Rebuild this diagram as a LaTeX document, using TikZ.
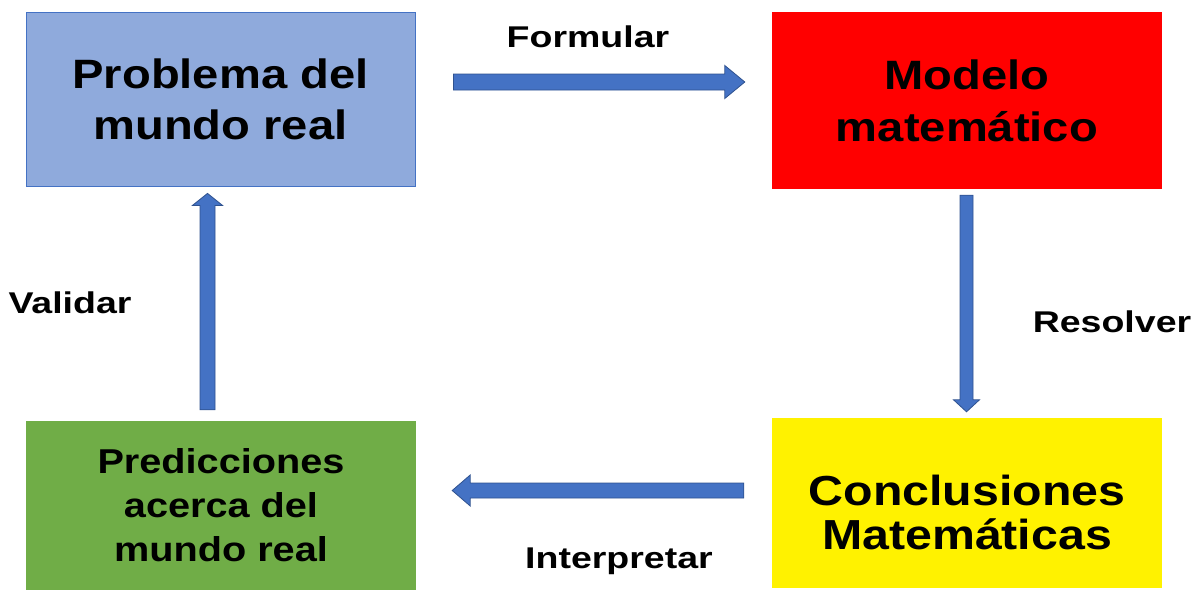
\documentclass[tikz,border=0pt]{standalone}
\usepackage{fontspec}
\setmainfont{Liberation Sans}
\newfontfamily\boxfont{Liberation Sans}[FakeStretch=1.15]
\newfontfamily\lblfont{Liberation Sans}[FakeStretch=1.25]
\usetikzlibrary{calc}
\definecolor{boxblue}{HTML}{8FAADC}
\definecolor{edgeblue}{HTML}{4472C4}
\definecolor{boxgreen}{HTML}{70AD47}
\definecolor{arrowfill}{HTML}{4472C4}
\definecolor{arrowedge}{HTML}{2F528F}
\tikzset{
  stage/.style={rectangle, minimum width=390pt, inner sep=0pt, align=center},
  verb/.style={anchor=base, inner sep=0pt, font=\lblfont\bfseries\fontsize{30}{36}\selectfont},
  fatarrow/.style={fill=arrowfill, draw=arrowedge, line width=0.8pt, line join=miter}
}
\newcommand{\bigarrow}[5]{%
  \coordinate (ba) at ($(#2)!#5!(#1)$);
  \filldraw[fatarrow] ($(#1)!#3!90:(#2)$) -- ($(ba)!#3!90:(#2)$) -- ($(ba)!#4!90:(#2)$) -- (#2)
    -- ($(ba)!#4!-90:(#2)$) -- ($(ba)!#3!-90:(#2)$) -- ($(#1)!#3!-90:(#2)$) -- cycle;
}
\begin{document}
\begin{tikzpicture}[x=1pt,y=1pt]
\useasboundingbox (0,0) rectangle (1195,-590);
\node[stage, fill=boxblue, draw=edgeblue, line width=0.8pt, minimum width=389pt, minimum height=174pt,
  font=\boxfont\bfseries\fontsize{41}{51}\selectfont] (prob) at (220.5,-99) {Problema del\\mundo real};
\node[stage, fill=red, minimum height=177pt,
  font=\boxfont\bfseries\fontsize{41}{52}\selectfont] (modelo) at (967,-100.5) {Modelo\\matemático};
\node[stage, fill=yellow, minimum height=170pt,
  font=\boxfont\bfseries\fontsize{42}{44}\selectfont] (concl) at (967,-503) {\raisebox{-21.5pt}[0pt][0pt]{\begin{tabular}{@{}c@{}}Conclusiones\\[0pt]Matemáticas\end{tabular}}};
\node[stage, fill=boxgreen, minimum height=169pt,
  font=\boxfont\bfseries\fontsize{34.5}{44}\selectfont] (pred) at (221,-505.5) {Predicciones\\acerca del\\mundo real};
\coordinate (f0) at ($(prob.east)+(38,17)$);
\coordinate (f1) at ($(modelo.west)+(-27,18.5)$);
\coordinate (r0) at ($(modelo.south)+(-0.5,-6)$);
\coordinate (r1) at ($(concl.north)+(-0.5,6)$);
\coordinate (i0) at ($(concl.west)+(-28,12.5)$);
\coordinate (i1) at ($(pred.east)+(36,15)$);
\coordinate (v0) at ($(pred.north)+(-13.5,11)$);
\coordinate (v1) at ($(prob.south)+(-13,-7)$);
\bigarrow{f0}{f1}{8pt}{16.5pt}{20pt}
\bigarrow{r0}{r1}{6.5pt}{13pt}{12pt}
\bigarrow{i0}{i1}{7.5pt}{15.5pt}{18pt}
\bigarrow{v0}{v1}{7.5pt}{15pt}{12pt}
\node[verb] (lf) at (588,-47) {Formular};
\node[verb] (lr) at (1112,-332) {Resolver};
\node[verb] (lv) at (70,-313) {Validar};
\node[verb] (li) at (619,-568) {Interpretar};
\end{tikzpicture}
\end{document}
